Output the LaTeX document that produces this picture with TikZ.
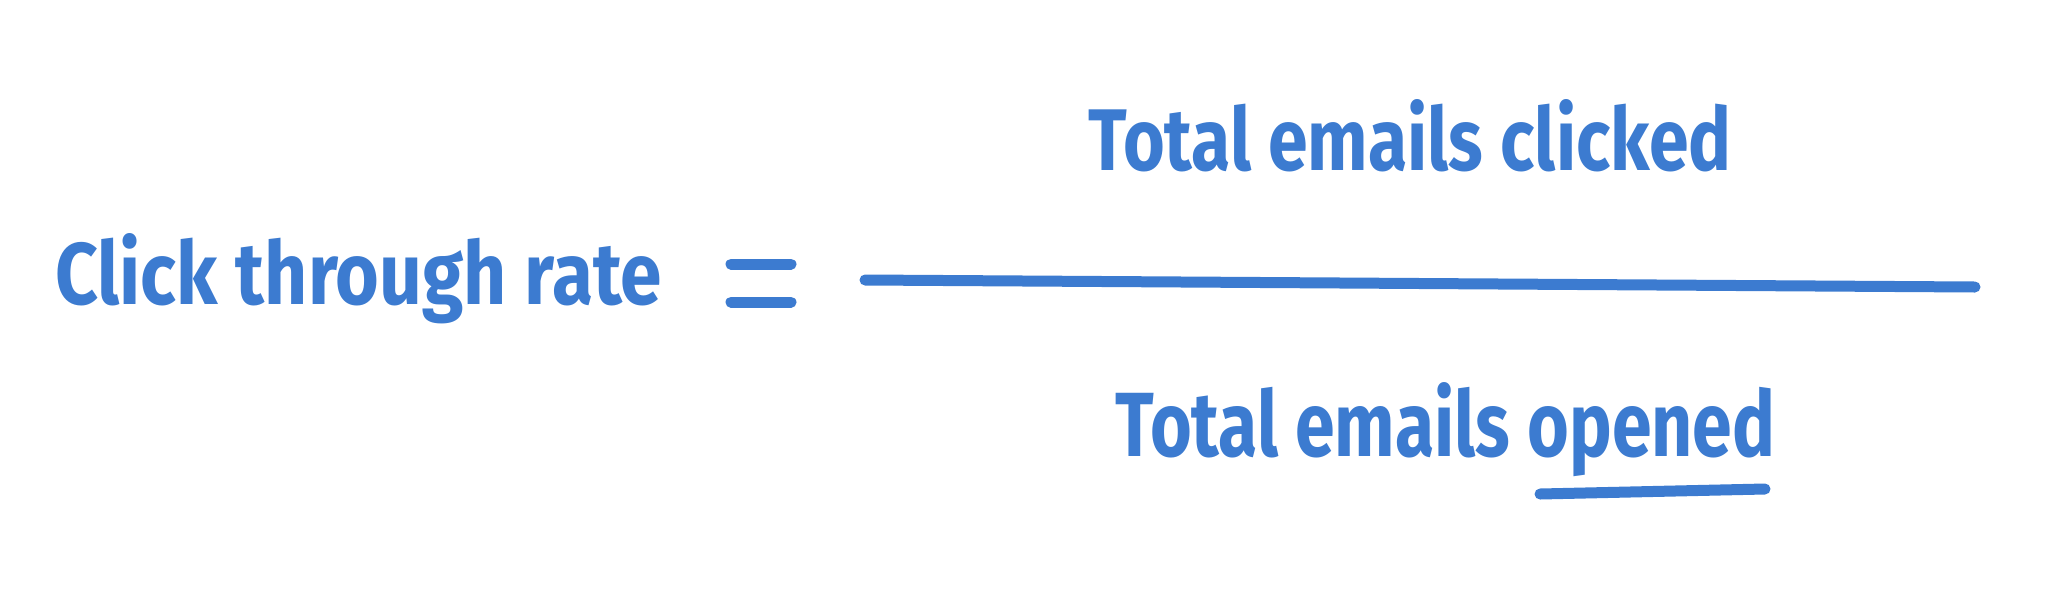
\documentclass[tikz,border=0pt]{standalone}
\usepackage{fontspec}
\setmainfont{Fira Sans}
\definecolor{ink}{HTML}{3C7BD0}
\begin{document}
\begin{tikzpicture}[x=1pt,y=-1pt]
\tikzset{
  txt/.style={inner sep=0pt, text=ink, anchor=base west, font=\bfseries},
  stroke/.style={draw=ink, line width=11pt, line cap=round}
}
\useasboundingbox (0,0) rectangle (2056,606);
\node[txt] (ctr) at (55,304) {\resizebox{607pt}{71pt}{Click through rate}};
\node[txt] (num) at (1088,170) {\resizebox{643pt}{71pt}{Total emails clicked}};
\node[txt] (den) at (1115,456) {\resizebox{660pt}{74pt}{Total emails opened}};
% equals sign
\coordinate (eqa1) at (731,264); \coordinate (eqa2) at (791,264);
\coordinate (eqb1) at (731,302); \coordinate (eqb2) at (791,302);
\draw[stroke] (eqa1) -- (eqa2);
\draw[stroke] (eqb1) -- (eqb2);
% fraction bar
\coordinate (fb1) at (865,280); \coordinate (fb2) at (1975,287);
\draw[stroke] (fb1) -- (fb2);
% underline of "opened"
\coordinate (ul1) at (1540,494); \coordinate (ul2) at (1765,489);
\draw[stroke] (ul1) -- (ul2);
\end{tikzpicture}
\end{document}
